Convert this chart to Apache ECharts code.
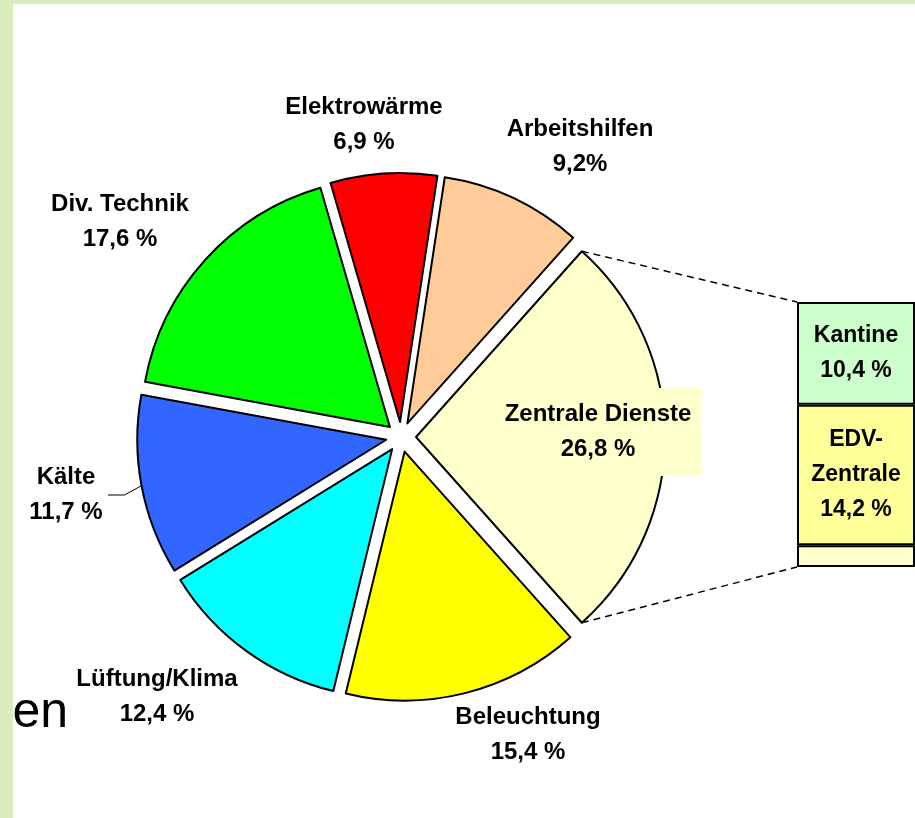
<!DOCTYPE html>
<html>
<head>
<meta charset="utf-8">
<script src="https://cdn.jsdelivr.net/npm/echarts@6/dist/echarts.min.js"></script>
<style>
  html, body { margin: 0; padding: 0; background: #fff; }
  #chart { width: 915px; height: 818px; }
</style>
</head>
<body>
<div id="chart"></div>
<script>
// pie slices, clockwise starting with the split slice
var categories = ['Zentrale Dienste', 'Beleuchtung', 'Lüftung/Klima', 'Kälte', 'Div. Technik', 'Elektrowärme', 'Arbeitshilfen'];
var shares = [26.8, 15.4, 12.4, 11.7, 17.6, 6.9, 9.2];
var shareLabels = ['26,8 %', '15,4 %', '12,4 %', '11,7 %', '17,6 %', '6,9 %', '9,2%'];
var sliceColors = ['#ffffcc', '#ffff00', '#00ffff', '#3366ff', '#00ff00', '#ff0000', '#ffcc99'];

// breakdown of "Zentrale Dienste" in the side bar (top to bottom)
var splitNames = ['Kantine', 'EDV-\nZentrale', ''];
var splitShares = [10.4, 14.2, 2.2];
var splitLabels = ['10,4 %', '14,2 %', ''];
var splitColors = ['#ccffcc', '#ffff99', '#ffffcc'];

var font = 'Liberation Sans, Arial, sans-serif';
var pieCenter = [401, 437], pieRadius = 249, explode = 15;
var barBox = { left: 797, top: 302, width: 120, height: 265 };
// label centres of the pie labels, same order as categories
var labelAt = [[598, 432], [528, 735], [157, 697], [66, 495], [120, 222], [364, 125], [580, 147]];

var total = shares.reduce(function (a, b) { return a + b; }, 0);
var splitSpan = shares[0] / total * 360;
var startAngle = splitSpan / 2;

// mid angle (deg) of a slice
function midAngle(idx) {
  var acc = 0;
  for (var i = 0; i < idx; i++) acc += shares[i];
  return startAngle - (acc + shares[idx] / 2) / total * 360;
}
// point on the exploded slice idx at angle a and radius r
function slicePoint(idx, a, r) {
  var m = midAngle(idx) * Math.PI / 180, t = a * Math.PI / 180;
  return [pieCenter[0] + explode * Math.cos(m) + r * Math.cos(t),
          pieCenter[1] - explode * Math.sin(m) - r * Math.sin(t)];
}
var upper = slicePoint(0, startAngle, pieRadius);
var lower = slicePoint(0, startAngle - splitSpan, pieRadius);
var splitTotal = splitShares.reduce(function (a, b) { return a + b; }, 0);

var pieData = categories.map(function (c, i) {
  return { name: c, value: shares[i], selected: true, itemStyle: { color: sliceColors[i] } };
});

var labelFont = { fill: '#000', fontFamily: font, fontWeight: 'bold', fontSize: 24, lineHeight: 35 };

var labels = categories.map(function (c, i) {
  var st = Object.assign({
    text: c + '\n' + shareLabels[i],
    x: labelAt[i][0], y: labelAt[i][1],
    align: 'center', verticalAlign: 'middle'
  }, labelFont);
  if (i === 0) {
    st.backgroundColor = sliceColors[0];
    st.padding = [9, 10];
  }
  return { type: 'text', z: 20, style: st };
});

// leader line for "Kälte"
var kIdx = categories.indexOf('Kälte');
var kArc = slicePoint(kIdx, midAngle(kIdx), pieRadius);
var kY = labelAt[kIdx][1];
var leader = {
  type: 'polyline', z: 20,
  shape: { points: [kArc, [kArc[0] - 17, kY], [labelAt[kIdx][0] + 42, kY]] },
  style: { stroke: '#000', lineWidth: 1, fill: null }
};

var option = {
  backgroundColor: '#fff',
  animation: false,
  grid: { left: barBox.left, top: barBox.top, width: barBox.width, height: barBox.height },
  xAxis: { type: 'category', data: [''], show: false },
  yAxis: { type: 'value', min: 0, max: splitTotal, inverse: true, show: false },
  series: [
    {
      type: 'pie',
      center: pieCenter,
      radius: pieRadius,
      startAngle: startAngle,
      clockwise: true,
      selectedMode: 'multiple',
      selectedOffset: explode,
      emphasis: { disabled: true },
      itemStyle: { borderColor: '#000', borderWidth: 2 },
      select: { itemStyle: { borderColor: '#000', borderWidth: 2 } },
      label: { show: false },
      labelLine: { show: false },
      data: pieData
    }
  ].concat(splitNames.map(function (n, i) {
    return {
      type: 'bar',
      stack: 'split',
      barWidth: '100%',
      silent: true,
      itemStyle: { color: splitColors[i], borderColor: '#000', borderWidth: 2 },
      label: {
        show: splitLabels[i] !== '',
        position: 'inside',
        color: '#000', fontFamily: font, fontWeight: 'bold', fontSize: 23, lineHeight: 35,
        formatter: function () { return n + '\n' + splitLabels[i]; }
      },
      data: [splitShares[i]]
    };
  })),
  graphic: [
    {
      type: 'text', z: 1,
      style: { text: 'en', x: 68, y: 713, align: 'right', verticalAlign: 'middle',
               fontFamily: font, fontSize: 50, fill: '#000' }
    },
    {
      type: 'line', z: 5,
      shape: { x1: upper[0], y1: upper[1], x2: barBox.left, y2: barBox.top },
      style: { stroke: '#000', lineWidth: 1.5, lineDash: [7, 5] }
    },
    {
      type: 'line', z: 5,
      shape: { x1: lower[0], y1: lower[1], x2: barBox.left, y2: barBox.top + barBox.height },
      style: { stroke: '#000', lineWidth: 1.5, lineDash: [7, 5] }
    },
    leader,
    { type: 'rect', z: 30, shape: { x: 0, y: 0, width: 915, height: 4 }, style: { fill: '#d8ecbc' } },
    { type: 'rect', z: 30, shape: { x: 0, y: 0, width: 13, height: 818 }, style: { fill: '#d8ecbc' } }
  ].concat(labels)
};

var chart = echarts.init(document.getElementById('chart'));
chart.setOption(option);
</script>
</body>
</html>
